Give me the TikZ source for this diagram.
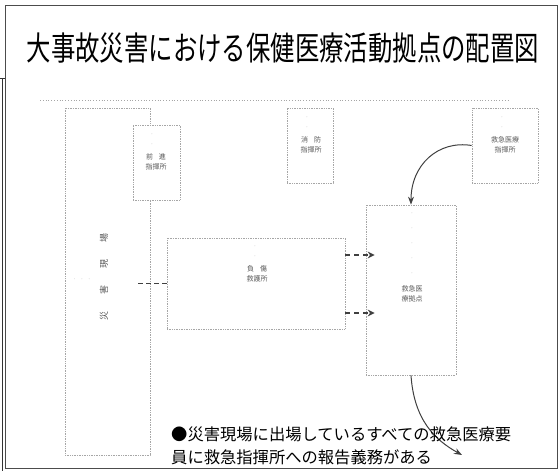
\documentclass[tikz,border=0pt]{standalone}
\usepackage{fontspec}
\setmainfont{Noto Sans CJK JP}
\usetikzlibrary{arrows.meta}
\tikzset{
  post/.style={draw=gray!70, densely dotted, line width=0.7pt, fill=white, inner sep=0pt},
  tiny/.style={font=\fontsize{7}{10.5}\selectfont, text=black!65, align=center, inner sep=0pt},
  dots/.style={font=\fontsize{6}{10.5}\selectfont, text=black!30, align=center, inner sep=0pt},
  flow/.style={draw=black!75, line width=1.3pt, dash pattern=on 5pt off 4pt, -{Stealth[length=7pt,width=7pt]}},
  curvearrow/.style={draw=black!75, line width=1pt, -{Stealth[length=8pt,width=6pt]}},
}
\begin{document}
\begin{tikzpicture}[x=1pt,y=-1pt]
\useasboundingbox (0,0) rectangle (560,471);
% frame
\draw[black!70, line width=0.8pt] (5,5) -- (557,5) -- (557,468) -- (5,468) -- cycle;
\draw[black!80, line width=1pt] (0,78) -- (5,78);
\draw[black!80, line width=1pt] (2,78) -- (2,471);
% title
\node[font=\fontsize{24.4}{24.4}\selectfont, yscale=1.35, transform shape, inner sep=0pt] (title) at (283,48) {大事故災害における保健医療活動拠点の配置図};
% dotted rule
\draw[gray!70, dotted, line width=0.8pt] (40,100) -- (510,100);
% boxes
\node[post, minimum width=85pt, minimum height=347pt] (site) at (107.5,281.5) {};
\node[post, minimum width=47pt, minimum height=75pt] (fwd) at (156.5,162.5) {};
\node[post, minimum width=46pt, minimum height=75pt] (box2) at (310,145.5) {};
\node[post, minimum width=66pt, minimum height=75pt] (box3) at (505,145.5) {};
\node[post, minimum width=178pt, minimum height=91pt] (mid) at (256,283.5) {};
\node[post, minimum width=90pt, minimum height=170pt] (tall) at (411,290) {};
% labels
\node[rotate=90, font=\fontsize{9}{9}\selectfont, text=black!65, inner sep=0pt] (sitelbl) at (104,277) {災\hspace{17pt}害\hspace{17pt}現\hspace{17pt}場};
\node[dots] (sitedots) at (82,280) {·\hspace{4pt}·\hspace{4pt}·};
\node[dots] (fwddots) at (152,140) {·\\·};
\node[tiny] (fwdlbl) at (156,162) {前\hspace{6pt}進\\指揮所};
\node[dots] (b2dots) at (307,123) {·\\·};
\node[tiny] (b2lbl) at (311,145) {消\hspace{6pt}防\\指揮所};
\node[dots] (b3dots) at (502,123) {·\\·};
\node[tiny] (b3lbl) at (505,145) {救急医療\\指揮所};
\node[dots] (middots) at (255,252) {·\\·};
\node[tiny] (midlbl) at (257,274) {負\hspace{6pt}傷\\救護所};
\node[dots, font=\fontsize{6}{15}\selectfont] (talldots) at (412,244) {·\\·\\·\\·\\·};
\node[tiny] (talllbl) at (412,294) {救急医\\療拠点};
% connectors
\path ([yshift=28.5pt]mid.east) coordinate (m1);
\path ([yshift=-29.5pt]mid.east) coordinate (m2);
\draw[flow, shorten >=-9pt] (m1) -- (m1 -| tall.west);
\draw[flow, shorten >=-9pt] (m2) -- (m2 -| tall.west);
\draw[draw=black!75, line width=1.2pt, dash pattern=on 5pt off 3pt] (mid.west -| site.east) ++(-12,0) -- (mid.west);
\draw[curvearrow] (box3.west) .. controls (438,140) and (411,165) .. (tall.north);
\coordinate (report) at (462,455);
\draw[curvearrow] (tall.south) .. controls (414,420) and (435,440) .. (report);
% note
\node[anchor=west, font=\fontsize{16.3}{23}\selectfont, align=left, inner sep=0pt] (note) at (171,446) {●災害現場に出場しているすべての救急医療要\\員に救急指揮所への報告義務がある};
\end{tikzpicture}
\end{document}
